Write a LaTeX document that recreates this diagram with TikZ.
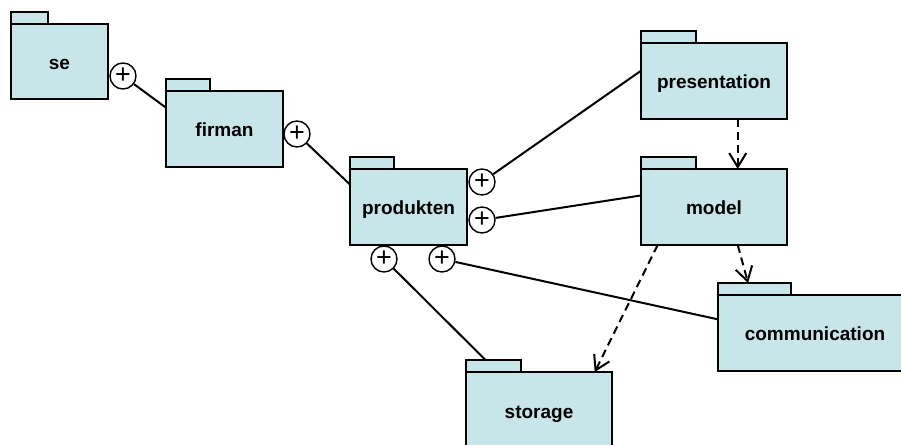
\documentclass[tikz,border=0pt]{standalone}
\usepackage{fontspec}
\setmainfont{Liberation Sans}
\usetikzlibrary{arrows.meta}
\definecolor{pkgfill}{RGB}{200,229,233}
\tikzset{
  pkgbody/.style={draw, line width=2pt, fill=pkgfill, rectangle, inner sep=0pt, outer sep=0pt,
    text height=15pt, text depth=0pt,
    font=\fontsize{19}{22}\selectfont\bfseries},
  pkgtab/.style={draw, line width=2pt, fill=pkgfill, rectangle, inner sep=0pt, outer sep=0pt},
  plusmark/.style={draw, circle, line width=1.4pt, fill=white, minimum size=26pt,
    inner sep=0pt, font=\fontsize{27}{27}\selectfont},
  link/.style={line width=2pt},
  dep/.style={line width=2pt, dash pattern=on 8pt off 5pt,
    -{Straight Barb[length=14pt,width=17pt,line width=2pt]}}
}
% package: name, left, top, right, bottom, tab right, label
\newcommand\pkgnode[7]{%
  \pgfmathsetmacro\pkgw{#4-#2}%
  \pgfmathsetmacro\pkgh{#5-#3}%
  \pgfmathsetmacro\pkgtw{#6-#2}%
  \node[pkgtab, minimum width=\pkgtw pt, minimum height=12pt, anchor=south west] (#1tab) at (#2,#3) {};
  \node[pkgbody, minimum width=\pkgw pt, minimum height=\pkgh pt, anchor=north west] (#1) at (#2,#3) {#7};
}
\begin{document}
\begin{tikzpicture}[x=1pt,y=-1pt]
\useasboundingbox (0,0) rectangle (901,444);
\clip (0,0) rectangle (901,444);

% packages
\pkgnode{se}{11}{24}{108}{99}{48}{se}
\pkgnode{firman}{166}{91}{283}{167}{210}{firman}
\pkgnode{produkten}{350}{169}{467}{245}{394}{produkten}
\pkgnode{presentation}{641}{43}{787}{119}{696}{presentation}
\pkgnode{model}{641}{169}{787}{245}{696}{model}
\pkgnode{communication}{718}{295}{912}{371}{791}{communication}
\pkgnode{storage}{466}{372}{612}{450}{521}{storage}

% nesting connectors
\node[plusmark] (cse) at (123,76) {+};
\node[plusmark] (cfirman) at (297,134) {+};
\node[plusmark] (cpres) at (482,182) {+};
\node[plusmark] (cmodel) at (482,220) {+};
\node[plusmark] (cstor) at (384,259) {+};
\node[plusmark] (ccomm) at (442,259) {+};

\draw[link] (cse) -- (firman.160.25);
\draw[link] (cfirman) -- (produkten.159.4);
\draw[link] (cpres) -- (presentation.172.2);
\draw[link] (cmodel) -- (model.171.4);
\draw[link] (cstor) -- (storagetab.143.7);
\draw[link] (ccomm) -- (communication.172.9);

% dependencies
\draw[dep] (presentation.-58.8) -- (model.58.8);
\draw[dep] (model.-58.8) -- (communicationtab.137.3);
\draw[dep] (model.214.6) -- (storage.35.6);
\end{tikzpicture}
\end{document}
